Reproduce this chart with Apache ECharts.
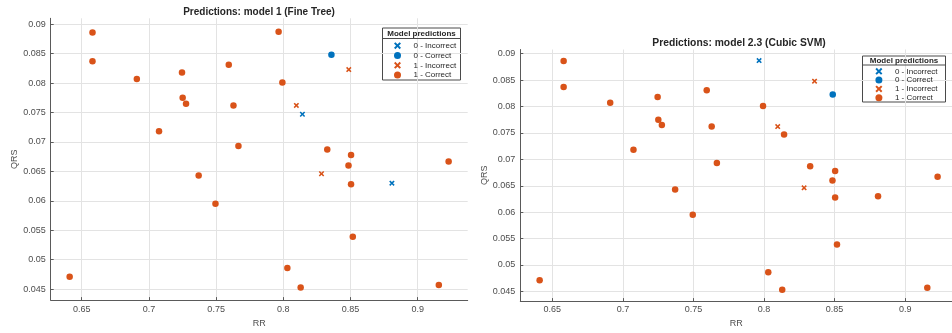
<!DOCTYPE html>
<html>
<head>
<meta charset="utf-8">
<script src="https://cdn.jsdelivr.net/npm/echarts@6/dist/echarts.min.js"></script>
<style>
  html, body { margin: 0; padding: 0; background: #fff; }
  #chart { width: 952px; height: 333px; }
</style>
</head>
<body>
<div id="chart"></div>
<script>
// same 30 observations in both panels, only the predicted class differs
const rr = [0.658, 0.658, 0.691, 0.7246, 0.7251, 0.7276, 0.7075, 0.7594, 0.7629, 0.7666,
  0.7965, 0.7993, 0.8097, 0.8142, 0.8358, 0.8487, 0.8327, 0.8504, 0.8485, 0.923,
  0.737, 0.8284, 0.8504, 0.8808, 0.7495, 0.8517, 0.803, 0.8129, 0.641, 0.9157];
const qrs = [0.0886, 0.0837, 0.0807, 0.0818, 0.0775, 0.0765, 0.0718, 0.0831, 0.0762, 0.0693,
  0.0887, 0.0801, 0.0762, 0.0747, 0.0848, 0.0823, 0.0687, 0.0678, 0.0660, 0.0667,
  0.0643, 0.0646, 0.0628, 0.0630, 0.0595, 0.0539, 0.0486, 0.0453, 0.0471, 0.0457];
// index into classNames
const fineTreeClass = [3, 3, 3, 3, 3, 3, 3, 3, 3, 3, 3, 3, 2, 0, 1, 2, 3, 3, 3, 3, 3, 2, 3, 0, 3, 3, 3, 3, 3, 3];
const cubicSvmClass = [3, 3, 3, 3, 3, 3, 3, 3, 3, 3, 0, 3, 2, 3, 2, 1, 3, 3, 3, 3, 3, 2, 3, 3, 3, 3, 3, 3, 3, 3];
const classNames = ['0 - Incorrect', '0 - Correct', '1 - Incorrect', '1 - Correct'];
const panelTitles = ['Predictions: model 1 (Fine Tree)', 'Predictions: model 2.3 (Cubic SVM)'];

const BLUE = '#0072BD', ORANGE = '#D95319';
const CROSS = 'path://M0,2 L2,0 L5,3 L8,0 L10,2 L7,5 L10,8 L8,10 L5,7 L2,10 L0,8 L3,5 Z';
const classStyle = [
  { symbol: CROSS, size: 5.5, color: BLUE },
  { symbol: 'circle', size: 6.5, color: BLUE },
  { symbol: CROSS, size: 5.5, color: ORANGE },
  { symbol: 'circle', size: 6.5, color: ORANGE }
];
const FONT = 'Liberation Sans, Arial, sans-serif';

function buildSeries(labels, idx) {
  return classNames.map((name, c) => ({
    name: name,
    type: 'scatter',
    xAxisIndex: idx,
    yAxisIndex: idx,
    symbol: classStyle[c].symbol,
    symbolSize: classStyle[c].size,
    itemStyle: { color: classStyle[c].color, opacity: 1 },
    data: rr.map((x, i) => [x, qrs[i]]).filter((p, i) => labels[i] === c)
  }));
}

function xAxisOpt(idx, min, max, gap, margin) {
  return {
    type: 'value', gridIndex: idx, min: min, max: max, splitNumber: 5,
    name: 'RR', nameLocation: 'middle', nameGap: gap,
    nameTextStyle: { color: '#4d4d4d', fontSize: 9, fontFamily: FONT },
    axisLine: { lineStyle: { color: '#5a5a5a' } },
    axisTick: { inside: true, length: 3, lineStyle: { color: '#5a5a5a' } },
    axisLabel: { color: '#4d4d4d', fontSize: 9, fontFamily: FONT, margin: margin, showMinLabel: false, showMaxLabel: false },
    splitLine: { show: true, showMinLine: false, showMaxLine: false, lineStyle: { color: '#e3e3e3' } }
  };
}
function yAxisOpt(idx, min, max, gap) {
  return {
    type: 'value', gridIndex: idx, min: min, max: max, splitNumber: 10,
    name: 'QRS', nameLocation: 'middle', nameGap: gap,
    nameTextStyle: { color: '#4d4d4d', fontSize: 9, fontFamily: FONT },
    axisLine: { show: true, lineStyle: { color: '#5a5a5a' } },
    axisTick: { show: true, inside: true, length: 3, lineStyle: { color: '#5a5a5a' } },
    axisLabel: { color: '#4d4d4d', fontSize: 9, fontFamily: FONT, margin: 5, showMinLabel: false, showMaxLabel: false },
    splitLine: { show: true, showMinLine: false, showMaxLine: false, lineStyle: { color: '#e3e3e3' } }
  };
}
function legendOpt(left, top, lineHeight) {
  return {
    orient: 'vertical', left: left, top: top, padding: 0, itemGap: 0,
    itemWidth: 22, itemHeight: 7,
    textStyle: { color: '#262626', fontSize: 8, fontFamily: FONT, lineHeight: lineHeight },
    data: classNames
  };
}
function legendBox(x, y, w, h, lineY) {
  return [
    { type: 'rect', shape: { x: x, y: y, width: w, height: h }, style: { fill: '#fff', stroke: '#4a4a4a', lineWidth: 1 }, z: 0 },
    { type: 'line', shape: { x1: x, y1: lineY, x2: x + w, y2: lineY }, style: { stroke: '#4a4a4a', lineWidth: 1 }, z: 1 },
    { type: 'text', x: x + w / 2, y: (y + lineY) / 2 + 0.5, z: 1,
      style: { text: 'Model predictions', align: 'center', verticalAlign: 'middle', fill: '#262626', font: 'bold 8px ' + FONT } }
  ];
}
function titleText(x, y, text, size) {
  return { type: 'text', x: x, y: y, z: 1,
    style: { text: text, align: 'center', verticalAlign: 'middle', fill: '#262626', font: 'bold ' + size + 'px ' + FONT } };
}

const chart = echarts.init(document.getElementById('chart'), null, { renderer: 'canvas' });
chart.setOption({
  animation: false,
  backgroundColor: '#fff',
  grid: [
    { left: 50.7, top: 18.3, right: 952 - 467.7, bottom: 333 - 308.3 },
    { left: 520.3, top: 49.5, right: 0, bottom: 333 - 309 }
  ],
  xAxis: [xAxisOpt(0, 0.6269, 0.9372, 15, 5), xAxisOpt(1, 0.6273, 0.9332, 13.5, 4)],
  yAxis: [yAxisOpt(0, 0.04314, 0.091, 31), yAxisOpt(1, 0.04316, 0.0908, 30)],
  legend: [legendOpt(394, 40.8, 9.8), legendOpt(875.4, 66.9, 8.8)],
  graphic: [
    titleText(259, 12.3, panelTitles[0], 10),
    titleText(739, 43.3, panelTitles[1], 10.3)
  ].concat(legendBox(382.5, 28, 78, 52, 38.5), legendBox(862.5, 56, 83, 46, 65)),
  series: buildSeries(fineTreeClass, 0).concat(buildSeries(cubicSvmClass, 1))
});
</script>
</body>
</html>
